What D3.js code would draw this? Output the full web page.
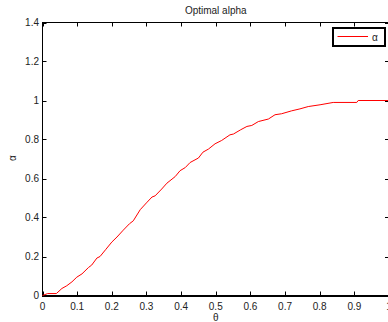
<!DOCTYPE html>
<html><head><meta charset="utf-8">
<script src="https://cdn.jsdelivr.net/npm/d3@7"></script>
<style>body{margin:0;background:#fff;overflow:hidden}svg{display:block}text{font-family:"Liberation Sans",Arial,sans-serif;fill:#222}</style>
</head><body>
<script>
const theta = [0,0.015,0.04,0.056,0.07,0.085,0.099,0.114,0.133,0.142,0.157,0.166,0.183,0.2,0.215,0.233,0.251,0.262,0.282,0.3,0.316,0.325,0.344,0.359,0.383,0.397,0.412,0.426,0.45,0.463,0.479,0.498,0.517,0.541,0.551,0.572,0.59,0.604,0.623,0.652,0.671,0.69,0.719,0.743,0.767,0.801,0.839,0.907,0.911,1.0];
const alpha = [0,0.01,0.01,0.036,0.05,0.07,0.094,0.111,0.144,0.156,0.192,0.2,0.237,0.274,0.3,0.335,0.368,0.383,0.44,0.475,0.505,0.511,0.546,0.576,0.61,0.64,0.656,0.682,0.705,0.735,0.751,0.778,0.795,0.824,0.828,0.85,0.867,0.872,0.892,0.905,0.927,0.932,0.947,0.957,0.969,0.978,0.99,0.99,1.0,1.0];
const xTicks = [0,0.1,0.2,0.3,0.4,0.5,0.6,0.7,0.8,0.9,1];
const yTicks = [0,0.2,0.4,0.6,0.8,1,1.2,1.4];
const title = "Optimal alpha", xLabel = "θ", yLabel = "α", legendLabel = "α";

const W = 388, H = 322;
const L = 42.5, R = 389, T = 22.5, B = 295.5;
const svg = d3.select("body").append("svg").attr("width", W).attr("height", H);
const x = d3.scaleLinear().domain([0,1]).range([L,R]);
const y = d3.scaleLinear().domain([0,1.4]).range([B,T]);

svg.append("rect").attr("x",L).attr("y",T).attr("width",R-L).attr("height",B-T)
  .attr("fill","#fff").attr("stroke","#000").attr("stroke-width",1);

const tl = 4;
const gx = svg.append("g");
xTicks.forEach(v=>{
  const px = Math.round(x(v))+0.5;
  gx.append("line").attr("x1",px).attr("x2",px).attr("y1",B).attr("y2",B-tl).attr("stroke","#000");
  gx.append("line").attr("x1",px).attr("x2",px).attr("y1",T).attr("y2",T+tl).attr("stroke","#000");
  gx.append("text").attr("x",x(v)).attr("y",310).attr("text-anchor","middle").attr("font-size",10).text(d3.format("")(v));
});
yTicks.forEach(v=>{
  const py = Math.round(y(v))+0.5;
  gx.append("line").attr("x1",L).attr("x2",L+tl).attr("y1",py).attr("y2",py).attr("stroke","#000");
  gx.append("line").attr("x1",R).attr("x2",R-tl).attr("y1",py).attr("y2",py).attr("stroke","#000");
  gx.append("text").attr("x",39).attr("y",y(v)).attr("dy","0.35em").attr("text-anchor","end").attr("font-size",10).text(d3.format("")(v));
});
svg.append("line").attr("x1",L-0.5).attr("x2",R).attr("y1",B+0.5).attr("y2",B+0.5).attr("stroke","#000").attr("stroke-width",2);

const line = d3.line().x((d,i)=>x(theta[i])).y((d,i)=>y(alpha[i]));
svg.append("path").datum(alpha).attr("d",line).attr("fill","none").attr("stroke","#ff0000").attr("stroke-width",1);

svg.append("text").attr("x",(L+R)/2).attr("y",14).attr("text-anchor","middle").attr("font-size",10).text(title);
svg.append("text").attr("x",(L+R)/2).attr("y",321).attr("text-anchor","middle").attr("font-size",10).text(xLabel);
svg.append("text").attr("transform","translate(16,158) rotate(-90)").attr("text-anchor","middle").attr("font-size",10).text(yLabel);

svg.append("rect").attr("x",333).attr("y",28).attr("width",52).attr("height",18).attr("fill","#fff").attr("stroke","#000").attr("stroke-width",2);
svg.append("line").attr("x1",337.5).attr("x2",368).attr("y1",36.5).attr("y2",36.5).attr("stroke","#ff0000");
svg.append("text").attr("x",372).attr("y",40.5).attr("font-size",10).text(legendLabel);
</script>
</body></html>
